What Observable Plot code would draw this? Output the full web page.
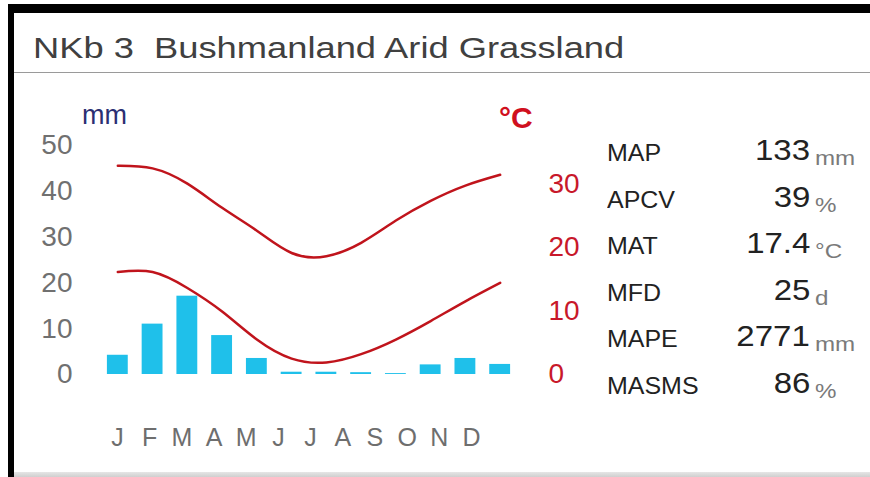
<!DOCTYPE html>
<html>
<head>
<meta charset="utf-8">
<script src="https://cdn.jsdelivr.net/npm/d3@7"></script>
<script src="https://cdn.jsdelivr.net/npm/@observablehq/plot@0.6"></script>
<style>
  html, body { margin: 0; padding: 0; background: #fff; }
  #wrap { position: relative; width: 870px; height: 477px; overflow: hidden; background: #fff;
          font-family: "Liberation Sans", Arial, sans-serif; }
  #frame { position: absolute; left: 8px; top: 4px; width: 900px; height: 500px;
           border-top: 9px solid #000; border-left: 6px solid #000; box-sizing: border-box; }
  #title { position: absolute; left: 33px; top: 31px; font-size: 30px; color: #404040;
           white-space: pre; transform: scaleX(1.21); transform-origin: left top; }
  #sep { position: absolute; left: 14px; right: 0; top: 72px; height: 1px; background: #9a9a9a; }
  #bottom { position: absolute; left: 14px; right: 0; top: 472px; height: 5px;
            background: linear-gradient(#e6e6e6, #cfcfcf); }
  .unitlab { position: absolute; white-space: pre; }
  #mm { left: 82px; top: 100px; font-size: 27px; color: #2b2f73; }
  #degc { left: 499px; top: 101px; font-size: 30px; font-weight: bold; color: #d0101e; }
  .plot { position: absolute; left: 0; }
  .slab { position: absolute; left: 607px; font-size: 24px; color: #222; white-space: pre;
          transform: scaleX(1.04); transform-origin: left center; line-height: 1; }
  .sval { position: absolute; right: 60px; font-size: 30px; color: #222; white-space: pre;
          line-height: 1; transform: scaleX(1.1); transform-origin: right center; }
  .sunit { position: absolute; left: 815px; font-size: 21px; color: #7a7a7a; white-space: pre; line-height: 1;
           transform: scaleX(1.15); transform-origin: left center; }
</style>
</head>
<body>
<div id="wrap">
  <div id="frame"></div>
  <div id="title"></div>
  <div id="sep"></div>
  <div id="bottom"></div>
  <div id="mm" class="unitlab"></div>
  <div id="degc" class="unitlab"></div>
</div>
<script>
// ---- data ----
const titleText = "NKb 3  Bushmanland Arid Grassland";
const monthKeys = ["Jan","Feb","Mar","Apr","May","Jun","Jul","Aug","Sep","Oct","Nov","Dec"];
const monthLabels = ["J","F","M","A","M","J","J","A","S","O","N","D"];
const precip = [4.2, 11.0, 17.1, 8.5, 3.5, 0.5, 0.5, 0.4, 0.2, 2.1, 3.5, 2.2];   // mm
const tmax = [32.8, 32.4, 30.0, 26.2, 22.6, 19.1, 18.6, 20.7, 24.2, 27.3, 29.7, 31.4]; // °C
const tmin = [16.1, 16.1, 13.6, 9.9, 5.5, 2.5, 1.9, 3.2, 5.5, 8.4, 11.5, 14.4];     // °C
const mmTicks = [0, 10, 20, 30, 40, 50];
const tempTicks = [0, 10, 20, 30];
const statLabels = ["MAP", "APCV", "MAT", "MFD", "MAPE", "MASMS"];
const statValues = ["133", "39", "17.4", "25", "2771", "86"];
const statUnits = ["mm", "%", "°C", "d", "mm", "%"];
const mmUnit = "mm";
const degUnit = "°C";

// 36 °C on the right axis spans the same height as 50 mm on the left
const k = 50 / 36;

const wrap = document.getElementById("wrap");
document.getElementById("title").textContent = titleText;
document.getElementById("mm").textContent = mmUnit;
document.getElementById("degc").textContent = degUnit;

const font = "Liberation Sans, Arial, sans-serif";

const main = Plot.plot({
  width: 600,
  height: 477,
  marginLeft: 93,
  marginRight: 76,
  marginTop: 145,
  marginBottom: 103,
  x: {domain: monthKeys, padding: 0.4, round: false, axis: null},
  y: {domain: [0, 50], axis: null},
  style: {background: "transparent", overflow: "visible", fontFamily: font},
  marks: [
    Plot.axisY({anchor: "left", ticks: mmTicks, tickSize: 0, tickPadding: 21,
                fontSize: 28, fill: "#707070", color: "#707070", label: null}),
    Plot.axisY({anchor: "right", ticks: tempTicks.map(t => t * k), tickSize: 0, tickPadding: 24,
                tickFormat: d => String(Math.round(d / k)), textAnchor: "start",
                fontSize: 28, fill: "#c8182a", color: "#c8182a", label: null}),
    Plot.barY(monthKeys, {x: d => d, y: (d, i) => precip[i], fill: "#1fc0ea"}),
    Plot.line(monthKeys, {x: d => d, y: (d, i) => tmax[i] * k, curve: "natural",
                          stroke: "#c0141c", strokeWidth: 2.5}),
    Plot.line(monthKeys, {x: d => d, y: (d, i) => tmin[i] * k, curve: "natural",
                          stroke: "#c0141c", strokeWidth: 2.5})
  ]
});
main.classList.add("plot");
main.style.top = "0px";
wrap.appendChild(main);

const monthsPlot = Plot.plot({
  width: 600,
  height: 40,
  marginLeft: 117,
  marginRight: 129,
  marginTop: 0,
  marginBottom: 0,
  x: {type: "point", domain: monthKeys, padding: 0, round: false, axis: null},
  style: {background: "transparent", overflow: "visible", fontFamily: font},
  marks: [
    Plot.text(monthKeys, {x: d => d, text: (d, i) => monthLabels[i], frameAnchor: "middle",
                          fontSize: 25, fill: "#6e6e6e"})
  ]
});
monthsPlot.classList.add("plot");
monthsPlot.style.top = "417px";
wrap.appendChild(monthsPlot);

// stats panel
statLabels.forEach((lab, i) => {
  const y = 153 + i * 46.6;
  const l = document.createElement("div");
  l.className = "slab"; l.textContent = lab; l.style.top = (y - 12) + "px";
  wrap.appendChild(l);
  const v = document.createElement("div");
  v.className = "sval"; v.textContent = statValues[i]; v.style.top = (y - 2 - 16) + "px";
  wrap.appendChild(v);
  const u = document.createElement("div");
  u.className = "sunit"; u.textContent = statUnits[i]; u.style.top = (y - 6) + "px";
  wrap.appendChild(u);
});
</script>
</body>
</html>
